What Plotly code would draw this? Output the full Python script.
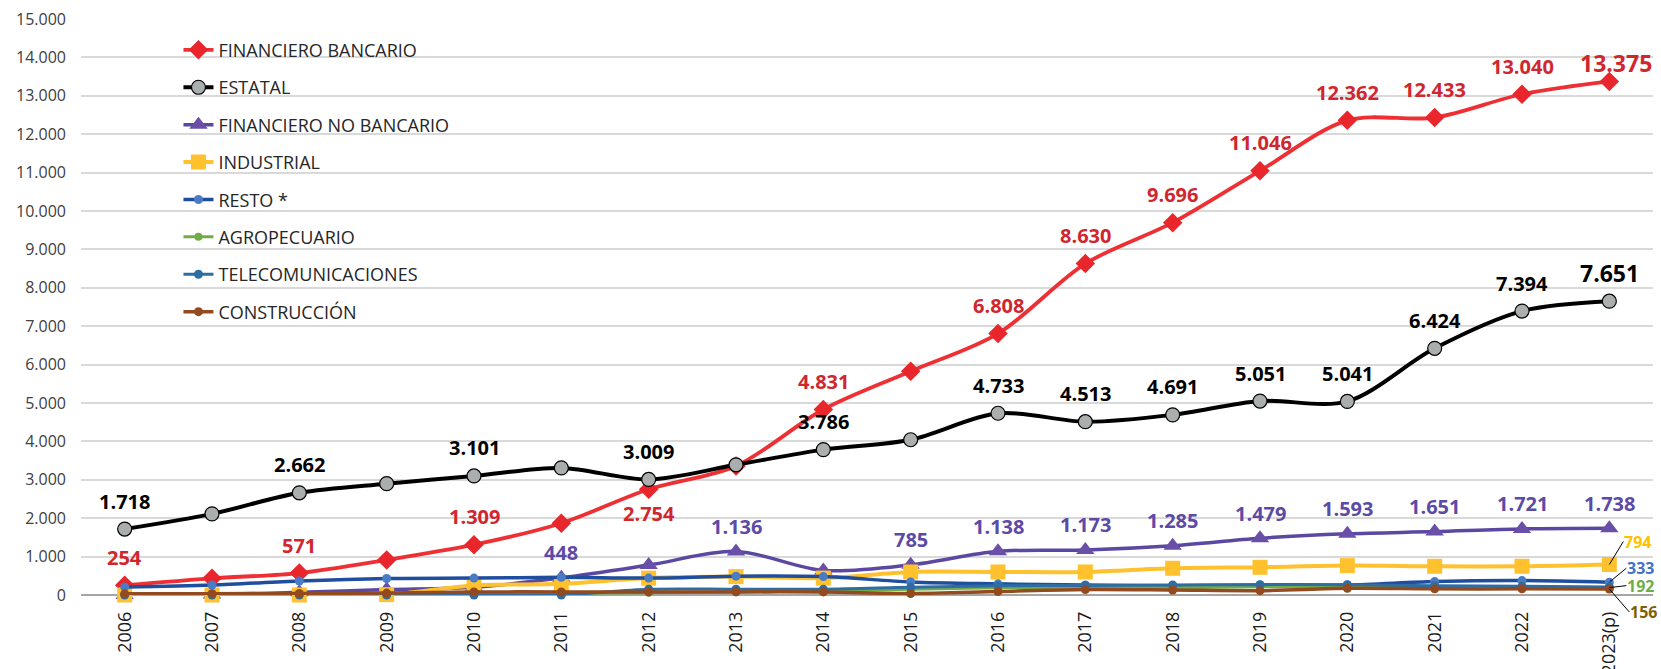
import plotly.graph_objects as go

years = ["2006", "2007", "2008", "2009", "2010", "2011", "2012", "2013", "2014",
         "2015", "2016", "2017", "2018", "2019", "2020", "2021", "2022", "2023(p)"]

fin_bancario = [254, 435, 571, 913, 1309, 1870, 2754, 3360, 4831, 5826, 6808, 8630,
                9696, 11046, 12362, 12433, 13040, 13375]
estatal = [1718, 2113, 2662, 2900, 3101, 3310, 3009, 3391, 3786, 4043, 4733, 4513,
           4691, 5051, 5041, 6424, 7394, 7651]
fin_no_bancario = [0, 10, 70, 140, 200, 448, 780, 1136, 640, 785, 1138, 1173, 1285,
                   1479, 1593, 1651, 1721, 1738]
industrial = [0, 0, 0, 10, 250, 290, 440, 480, 440, 600, 600, 600, 696, 722, 765,
              748, 748, 794]
resto = [210, 260, 365, 430, 440, 460, 440, 490, 480, 340, 290, 260, 240, 260, 260,
         350, 375, 333]
agropecuario = [10, 15, 20, 25, 30, 40, 60, 80, 100, 150, 190, 200, 190, 215, 220,
                200, 200, 192]
telecom = [0, 0, 0, 0, 0, 0, 150, 150, 150, 200, 240, 250, 260, 270, 270, 240, 230, 210]
construccion = [30, 35, 40, 50, 80, 80, 80, 80, 80, 40, 90, 140, 130, 113, 174, 160,
                160, 156]

y_ticks = list(range(0, 15001, 1000))

# indices of labelled points
lab_red = [0, 2, 4, 6, 8, 10, 11, 12, 13, 14, 15, 16, 17]
lab_black = [0, 2, 4, 6, 8, 10, 11, 12, 13, 14, 15, 16, 17]
lab_purple = [5, 7, 9, 10, 11, 12, 13, 14, 15, 16, 17]

FONT = "Open Sans"


def fmt(v):
    return f"{v:,}".replace(",", ".")


series = [
    dict(name="FINANCIERO BANCARIO", y=fin_bancario, line="#EE3034", width=3.8,
         marker=dict(symbol="diamond", size=15, color="#E8262B",
                     line=dict(width=0))),
    dict(name="ESTATAL", y=estatal, line="#000000", width=4,
         marker=dict(symbol="circle", size=14, color="#ABAEAE",
                     line=dict(width=1.2, color="#000000"))),
    dict(name="FINANCIERO NO BANCARIO", y=fin_no_bancario, line="#5B48A2", width=3.5,
         marker=dict(symbol="triangle-up", size=16, color="#6A4FA8",
                     line=dict(width=0))),
    dict(name="INDUSTRIAL", y=industrial, line="#FFC12E", width=4,
         marker=dict(symbol="square", size=15, color="#FFC12E",
                     line=dict(width=0))),
    dict(name="RESTO *", y=resto, line="#1F4E9E", width=3.5,
         marker=dict(symbol="circle", size=9, color="#4A7CC6",
                     line=dict(width=0))),
    dict(name="AGROPECUARIO", y=agropecuario, line="#70AD47", width=3,
         marker=dict(symbol="circle", size=8, color="#70AD47",
                     line=dict(width=0))),
    dict(name="TELECOMUNICACIONES", y=telecom, line="#2E6DA4", width=3,
         marker=dict(symbol="circle", size=9, color="#2E6DA4",
                     line=dict(width=0))),
    dict(name="CONSTRUCCIÓN", y=construccion, line="#934A1E", width=3.5,
         marker=dict(symbol="circle", size=9, color="#934A1E",
                     line=dict(width=0))),
]

fig = go.Figure()
for i, s in enumerate(series):
    fig.add_trace(go.Scatter(
        x=years, y=s["y"], name=s["name"], mode="lines+markers",
        line=dict(color=s["line"], width=s["width"], shape="spline", smoothing=0.9),
        marker=s["marker"], cliponaxis=False, legendgroup=f"g{i}",
    ))

annotations = []


def add_labels(values, idxs, color, shift, last_size=None, last_shift=None,
               last_xshift=0):
    n = len(values) - 1
    for i in idxs:
        size = 20
        sh = shift(i) if callable(shift) else shift
        xs = 0
        if i == n and last_size:
            size = last_size
        if i == n and last_shift is not None:
            sh = last_shift
            xs = last_xshift
        annotations.append(dict(
            x=i, y=values[i], xref="x", yref="y", text=fmt(values[i]),
            showarrow=False, yshift=sh, xshift=xs,
            font=dict(family=FONT, size=size, color=color, weight=700),
        ))


add_labels(fin_bancario, lab_red, "#D0262E", lambda i: -24 if i == 6 else 28, 23,
           last_shift=18, last_xshift=7)
add_labels(estatal, lab_black, "#000000", 28, 23)
add_labels(fin_no_bancario, lab_purple, "#5B4AA6", 25)

# right side labels with leader lines
right_labels = [
    (industrial, "#FFC000", 14, -23),
    (resto, "#4472C4", 17, -14),
    (agropecuario, "#70AD47", 17, -2),
    (construccion, "#7F6000", 20, 23),
]
last = len(years) - 1
for vals, col, ax, ay in right_labels:
    annotations.append(dict(
        x=last, y=vals[-1], xref="x", yref="y", text=fmt(vals[-1]), showarrow=True,
        arrowhead=0, arrowwidth=1, arrowcolor="#000000", ax=ax, ay=ay,
        xanchor="left", borderpad=0,
        font=dict(family=FONT, size=16, color=col, weight=700),
    ))

fig.update_layout(
    width=1661, height=669,
    margin=dict(l=81, r=8, t=19, b=74),
    paper_bgcolor="white", plot_bgcolor="white",
    separators=",.",
    font=dict(family=FONT, size=16, color="#404040"),
    showlegend=True,
    legend=dict(
        x=0.062, y=0.978, xanchor="left", yanchor="top",
        bgcolor="rgba(0,0,0,0)", font=dict(family=FONT, size=18, color="#262626"),
        tracegroupgap=11, itemwidth=30,
    ),
    annotations=annotations,
)
fig.update_xaxes(
    type="category", range=[-0.5, 17.5], showgrid=False, showline=False,
    ticks="", tickangle=-90, automargin=False, ticklabelstandoff=12,
    tickfont=dict(family=FONT, size=18, color="#1A1A1A"),
)
fig.update_yaxes(
    range=[0, 15000], tickvals=y_ticks, tickformat=",d", automargin=False,
    showgrid=True, gridcolor="#D9D9D9", gridwidth=1.5,
    zeroline=True, zerolinecolor="#A6A6A6", zerolinewidth=2,
    ticks="", ticklabelstandoff=14,
    tickfont=dict(family=FONT, size=16, color="#404040"),
)

fig.write_html("out.html", config={"displayModeBar": False},
               post_script="document.body.style.margin='0';")
